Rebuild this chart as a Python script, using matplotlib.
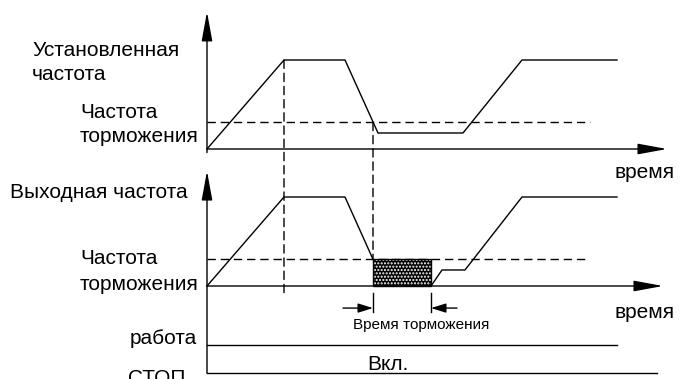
import matplotlib
matplotlib.use("Agg")
import matplotlib.pyplot as plt
from matplotlib.patches import Rectangle, ConnectionPatch

plt.rcParams['font.family'] = ['Liberation Sans', 'DejaVu Sans']

# set frequency: time points (arb. units) and frequency (Hz)
set_t = [0, 7.7, 13.8, 17.1, 25.6, 31.5, 41.0]
set_f = [0, 50, 50, 9, 9, 50, 50]
# output frequency, before and after DC braking
out_t1 = [0, 7.7, 13.8, 16.6]
out_f1 = [0, 50, 50, 15]
out_t2 = [22.4, 23.5, 25.8, 31.5, 41.0]
out_f2 = [0, 9, 9, 50, 50]
f_brake = 15
brake_start, brake_end = 16.6, 22.4
t_peak = 7.7
dash_end = [38.3, 38.1]
run_end = 41.0
stop_end = 45.0

W, H = 680, 379
PX_T = 10.0    # px per time unit
PX_F = 1.78    # px per Hz
X0 = 207

fig = plt.figure(figsize=(W / 100, H / 100), dpi=100)


def panel(y0):
    ax = fig.add_axes([0, 0, 1, 1])
    ax.set_xlim(-X0 / PX_T, (W - X0) / PX_T)
    ax.set_ylim(-(H - y0) / PX_F, y0 / PX_F)
    ax.axis('off')
    return ax


def arrow(ax, p0, p1, hl=1.8, hw=0.33):
    ax.annotate('', xy=p1, xytext=p0,
                arrowprops=dict(arrowstyle='-|>,head_length=%g,head_width=%g' % (hl, hw),
                                mutation_scale=10, lw=1, color='black',
                                shrinkA=0, shrinkB=0))


def px(x, y):
    return x / W, 1 - y / H


ax_top = panel(149)
ax_bot = panel(286)
dash = (0, (6, 3.5))

# top: set frequency
arrow(ax_top, (0, -2), (0, 77))
arrow(ax_top, (0, 0), (46.0, 0))
ax_top.plot(set_t, set_f, color='black', lw=1)
ax_top.plot([0, dash_end[0]], [f_brake, f_brake], color='black', lw=1, linestyle=dash)

# bottom: output frequency
arrow(ax_bot, (0, -48.9), (0, 64.6))
arrow(ax_bot, (0, 0), (45.6, 0))
ax_bot.plot(out_t1, out_f1, color='black', lw=1)
ax_bot.plot(out_t2, out_f2, color='black', lw=1)
ax_bot.plot([0, dash_end[1]], [f_brake, f_brake], color='black', lw=1, linestyle=dash)
ax_bot.add_patch(Rectangle((brake_start, 0), brake_end - brake_start, f_brake,
                           facecolor='black', edgecolor='white', hatch='.....', lw=0))
ax_bot.add_patch(Rectangle((brake_start, 0), brake_end - brake_start, f_brake,
                           fill=False, edgecolor='black', lw=1))

# braking time markers
for t in (brake_start, brake_end):
    ax_bot.plot([t, t], [-3.9, -14.6], color='black', lw=1)
arrow(ax_bot, (brake_start - 3.0, -12.4), (brake_start, -12.4), hl=0.9, hw=0.28)
arrow(ax_bot, (brake_end + 2.6, -12.4), (brake_end, -12.4), hl=0.9, hw=0.28)

# run / stop rows
run_y, stop_y = -(345 - 286) / PX_F, -(373 - 286) / PX_F
ax_bot.plot([0, run_end], [run_y, run_y], color='black', lw=1)
ax_bot.plot([0, stop_end], [stop_y, stop_y], color='black', lw=1)

# cross-panel dashed guides
for (ta, fa, fb) in [(t_peak, 50, -3.9), (brake_start, f_brake, f_brake)]:
    con = ConnectionPatch(xyA=(ta, fa), coordsA=ax_top.transData,
                          xyB=(ta, fb), coordsB=ax_bot.transData,
                          color='black', lw=1, linestyle=dash)
    fig.add_artist(con)

fs = 15
fig.text(*px(32, 51), 'Установленная', fontsize=fs, va='center')
fig.text(*px(32, 75), 'частота', fontsize=fs, va='center')
fig.text(*px(80, 113), 'Частота', fontsize=fs, va='center')
fig.text(*px(80, 137), 'торможения', fontsize=fs, va='center')
fig.text(*px(615, 173), 'время', fontsize=fs, va='center')
fig.text(*px(10, 193), 'Выходная частота', fontsize=fs, va='center')
fig.text(*px(80, 259), 'Частота', fontsize=fs, va='center')
fig.text(*px(80, 284), 'торможения', fontsize=fs, va='center')
fig.text(*px(615, 313), 'время', fontsize=fs, va='center')
fig.text(*px(421, 325), 'Время торможения', fontsize=11, va='center', ha='center')
fig.text(*px(197, 339), 'работа', fontsize=fs, va='center', ha='right')
fig.text(*px(128, 384), 'СТОП', fontsize=fs, va='baseline')
fig.text(*px(388, 365), 'Вкл.', fontsize=fs, va='center', ha='center')

fig.savefig('out.png', dpi=100)
